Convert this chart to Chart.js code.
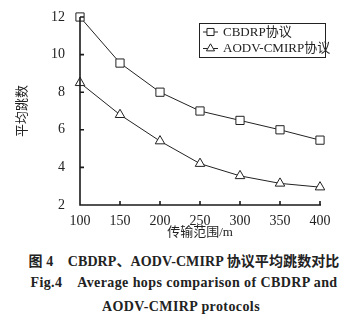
<!DOCTYPE html>
<html>
<head>
<meta charset="utf-8">
<script src="https://cdn.jsdelivr.net/npm/chart.js@4/dist/chart.umd.min.js"></script>
<style>
  body { margin: 0; background: #fff; width: 362px; height: 323px; overflow: hidden; }
  #wrap { position: relative; width: 362px; height: 240px; }
  .cap { font-family: "Liberation Serif", "Noto Sans CJK SC", serif; font-weight: bold; color: #222;
         text-align: center; font-size: 14px; white-space: pre; position: absolute; left: 0; width: 362px; }
</style>
</head>
<body>
<div id="wrap"><canvas id="myChart" width="362" height="240"></canvas></div>
<div class="cap" style="top:250px; left:3px; letter-spacing:0.1px;">图 4    CBDRP、AODV-CMIRP 协议平均跳数对比</div>
<div class="cap" style="top:275px; left:3px; letter-spacing:0.4px;">Fig.4    Average hops comparison of CBDRP and</div>
<div class="cap" style="top:299px; letter-spacing:0.4px;">AODV-CMIRP protocols</div>
<script>
// 传输范围 (m)
const ranges = [100, 150, 200, 250, 300, 350, 400];
const cbdrpHops = [12, 9.55, 8.0, 7.0, 6.5, 6.0, 5.45];
const aodvHops = [8.5, 6.8, 5.4, 4.2, 3.55, 3.15, 2.95];
const seriesNames = ['CBDRP协议', 'AODV-CMIRP协议'];
const xTitle = '传输范围/m';
const yTitle = '平均跳数';

const ink = '#222';
const serif = "'Liberation Serif', 'Times New Roman', 'Noto Sans CJK SC', serif";

// 坐标轴、朝内的刻度线和带框图例
const frame = {
  id: 'frame',
  afterDraw(chart) {
    const ctx = chart.ctx;
    const xs = chart.scales.x;
    const ys = chart.scales.y;
    const l = xs.getPixelForValue(100);
    const r = xs.getPixelForValue(400) + 1;
    const t = ys.getPixelForValue(12);
    const b = ys.getPixelForValue(2);
    ctx.save();
    ctx.strokeStyle = '#1a1a1a';
    ctx.lineWidth = 1.6;
    ctx.beginPath();
    ctx.moveTo(l, t);
    ctx.lineTo(l, b);
    ctx.lineTo(r, b);
    xs.ticks.forEach((tk) => {
      const px = xs.getPixelForValue(tk.value);
      ctx.moveTo(px, b);
      ctx.lineTo(px, b - 4);
    });
    ys.ticks.forEach((tk) => {
      const py = ys.getPixelForValue(tk.value);
      ctx.moveTo(l, py);
      ctx.lineTo(l + 4, py);
    });
    ctx.stroke();

    ctx.strokeStyle = ink;
    ctx.lineWidth = 1;
    const x0 = 199, y0 = 23, w = 126, h = 34;
    ctx.strokeRect(x0 + 0.5, y0 + 0.5, w, h);
    ctx.font = '13px ' + serif;
    ctx.textBaseline = 'middle';
    chart.data.datasets.forEach((ds, i) => {
      const cy = y0 + 9 + i * 16.5;
      ctx.beginPath();
      ctx.moveTo(x0 + 4, cy);
      ctx.lineTo(x0 + 19, cy);
      ctx.stroke();
      ctx.fillStyle = '#fff';
      Chart.helpers.drawPoint(ctx, {
        pointStyle: ds.pointStyle,
        radius: ds.pointRadius - 0.8,
        borderWidth: 1,
      }, x0 + 11.5, cy);
      ctx.fillStyle = ink;
      ctx.fillText(ds.label, x0 + 24, cy + 0.5);
    });
    ctx.restore();
  },
};

const data = {
  datasets: [
    {
      label: seriesNames[0],
      data: ranges.map((r, i) => ({ x: r, y: cbdrpHops[i] })),
      borderColor: ink,
      backgroundColor: '#fff',
      pointBackgroundColor: '#fff',
      pointBorderColor: ink,
      borderWidth: 1,
      pointStyle: 'rect',
      pointRadius: 5.8,
      pointBorderWidth: 1,
      tension: 0,
      clip: false,
    },
    {
      label: seriesNames[1],
      data: ranges.map((r, i) => ({ x: r, y: aodvHops[i] })),
      borderColor: ink,
      backgroundColor: '#fff',
      pointBackgroundColor: '#fff',
      pointBorderColor: ink,
      borderWidth: 1,
      pointStyle: 'triangle',
      pointRadius: 5.5,
      pointBorderWidth: 1,
      tension: 0,
      clip: false,
    },
  ],
};

const tickFont = { family: serif, size: 14, weight: 'normal' };

const config = {
  type: 'line',
  data: data,
  plugins: [frame],
  options: {
    responsive: false,
    animation: false,
    layout: { padding: { top: 17, right: 42, left: 15, bottom: 0 } },
    plugins: { legend: { display: false }, tooltip: { enabled: false } },
    scales: {
      x: {
        type: 'linear',
        min: 100,
        max: 400,
        ticks: { stepSize: 50, color: ink, font: tickFont, padding: 0, maxRotation: 0 },
        grid: { display: false },
        border: { display: false },
        title: { display: true, text: xTitle, color: ink, font: { family: serif, size: 13, weight: 'normal' }, padding: { top: 1, bottom: 0 } },
        afterFit(scale) { scale.height = 35; },
      },
      y: {
        min: 2,
        max: 12,
        ticks: { stepSize: 2, color: ink, font: tickFont, padding: 7 },
        grid: { display: false },
        border: { display: false },
        title: { display: true, text: yTitle, color: ink, font: { family: serif, size: 13, weight: 'normal' }, padding: { top: 0, bottom: 0 } },
        afterFit(scale) { scale.width = 65; },
      },
    },
  },
};

const myChart = new Chart(document.getElementById('myChart'), config);
</script>
</body>
</html>
